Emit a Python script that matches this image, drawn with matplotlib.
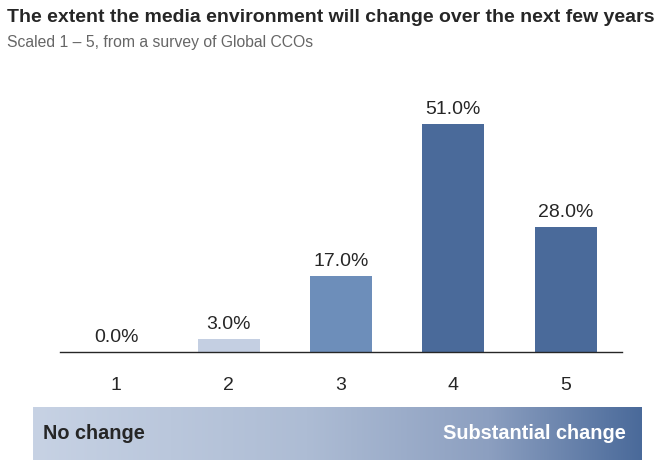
import numpy as np
import matplotlib
matplotlib.use("Agg")
import matplotlib.pyplot as plt
from matplotlib.colors import LinearSegmentedColormap

plt.rcParams["font.family"] = ["Liberation Sans", "DejaVu Sans"]

categories = ["1", "2", "3", "4", "5"]
values = [0.0, 3.0, 17.0, 51.0, 28.0]
bar_colors = ["#c4cfe2", "#c4cfe2", "#6d8eba", "#4a6a9a", "#4a6a9a"]

TITLE = "The extent the media environment will change over the next few years"
SUBTITLE = "Scaled 1 \u2013 5, from a survey of Global CCOs"
LOW_LABEL = "No change"
HIGH_LABEL = "Substantial change"

W, H = 671, 476
fig = plt.figure(figsize=(W / 100, H / 100), dpi=100)

# main bar chart
ax = fig.add_axes([60 / W, (H - 352) / H, 562 / W, 246 / H])
x = np.arange(1, len(categories) + 1)
ax.bar(x, values, width=0.55, color=bar_colors)
for xi, v in zip(x, values):
    ax.text(xi, v + 1.3, f"{v:.1f}%", ha="center", va="bottom", fontsize=14, color="#262626")
ax.set_xlim(0.5, 5.5)
ax.set_ylim(0, 55)
ax.set_xticks(x)
ax.set_xticklabels(categories, fontsize=14, color="#262626")
ax.tick_params(axis="x", length=0, pad=18)
ax.set_yticks([])
for side in ["top", "right", "left"]:
    ax.spines[side].set_visible(False)
ax.spines["bottom"].set_color("#262626")
ax.spines["bottom"].set_linewidth(1.0)

fig.text(7 / W, 1 - 18 / H, TITLE, fontsize=14, fontweight="bold", color="#262626", va="center")
fig.text(7 / W, 1 - 43 / H, SUBTITLE, fontsize=11.3, color="#666666", va="center")

# gradient scale strip
gax = fig.add_axes([33 / W, (H - 460) / H, 609 / W, 53 / H])
cmap = LinearSegmentedColormap.from_list(
    "scale", [(0, "#c7d2e4"), (0.45, "#adbcd4"), (0.75, "#8c9fc0"), (1, "#4a6a9a")]
)
gax.imshow(np.linspace(0, 1, 256)[None, :], aspect="auto", cmap=cmap, extent=[0, 1, 0, 1])
gax.set_axis_off()
gax.text(0.016, 0.5, LOW_LABEL, transform=gax.transAxes, ha="left", va="center",
         fontsize=14.3, fontweight="bold", color="#262626")
gax.text(0.974, 0.5, HIGH_LABEL, transform=gax.transAxes, ha="right", va="center",
         fontsize=14.3, fontweight="bold", color="white")

fig.savefig("out.png", dpi=100)
